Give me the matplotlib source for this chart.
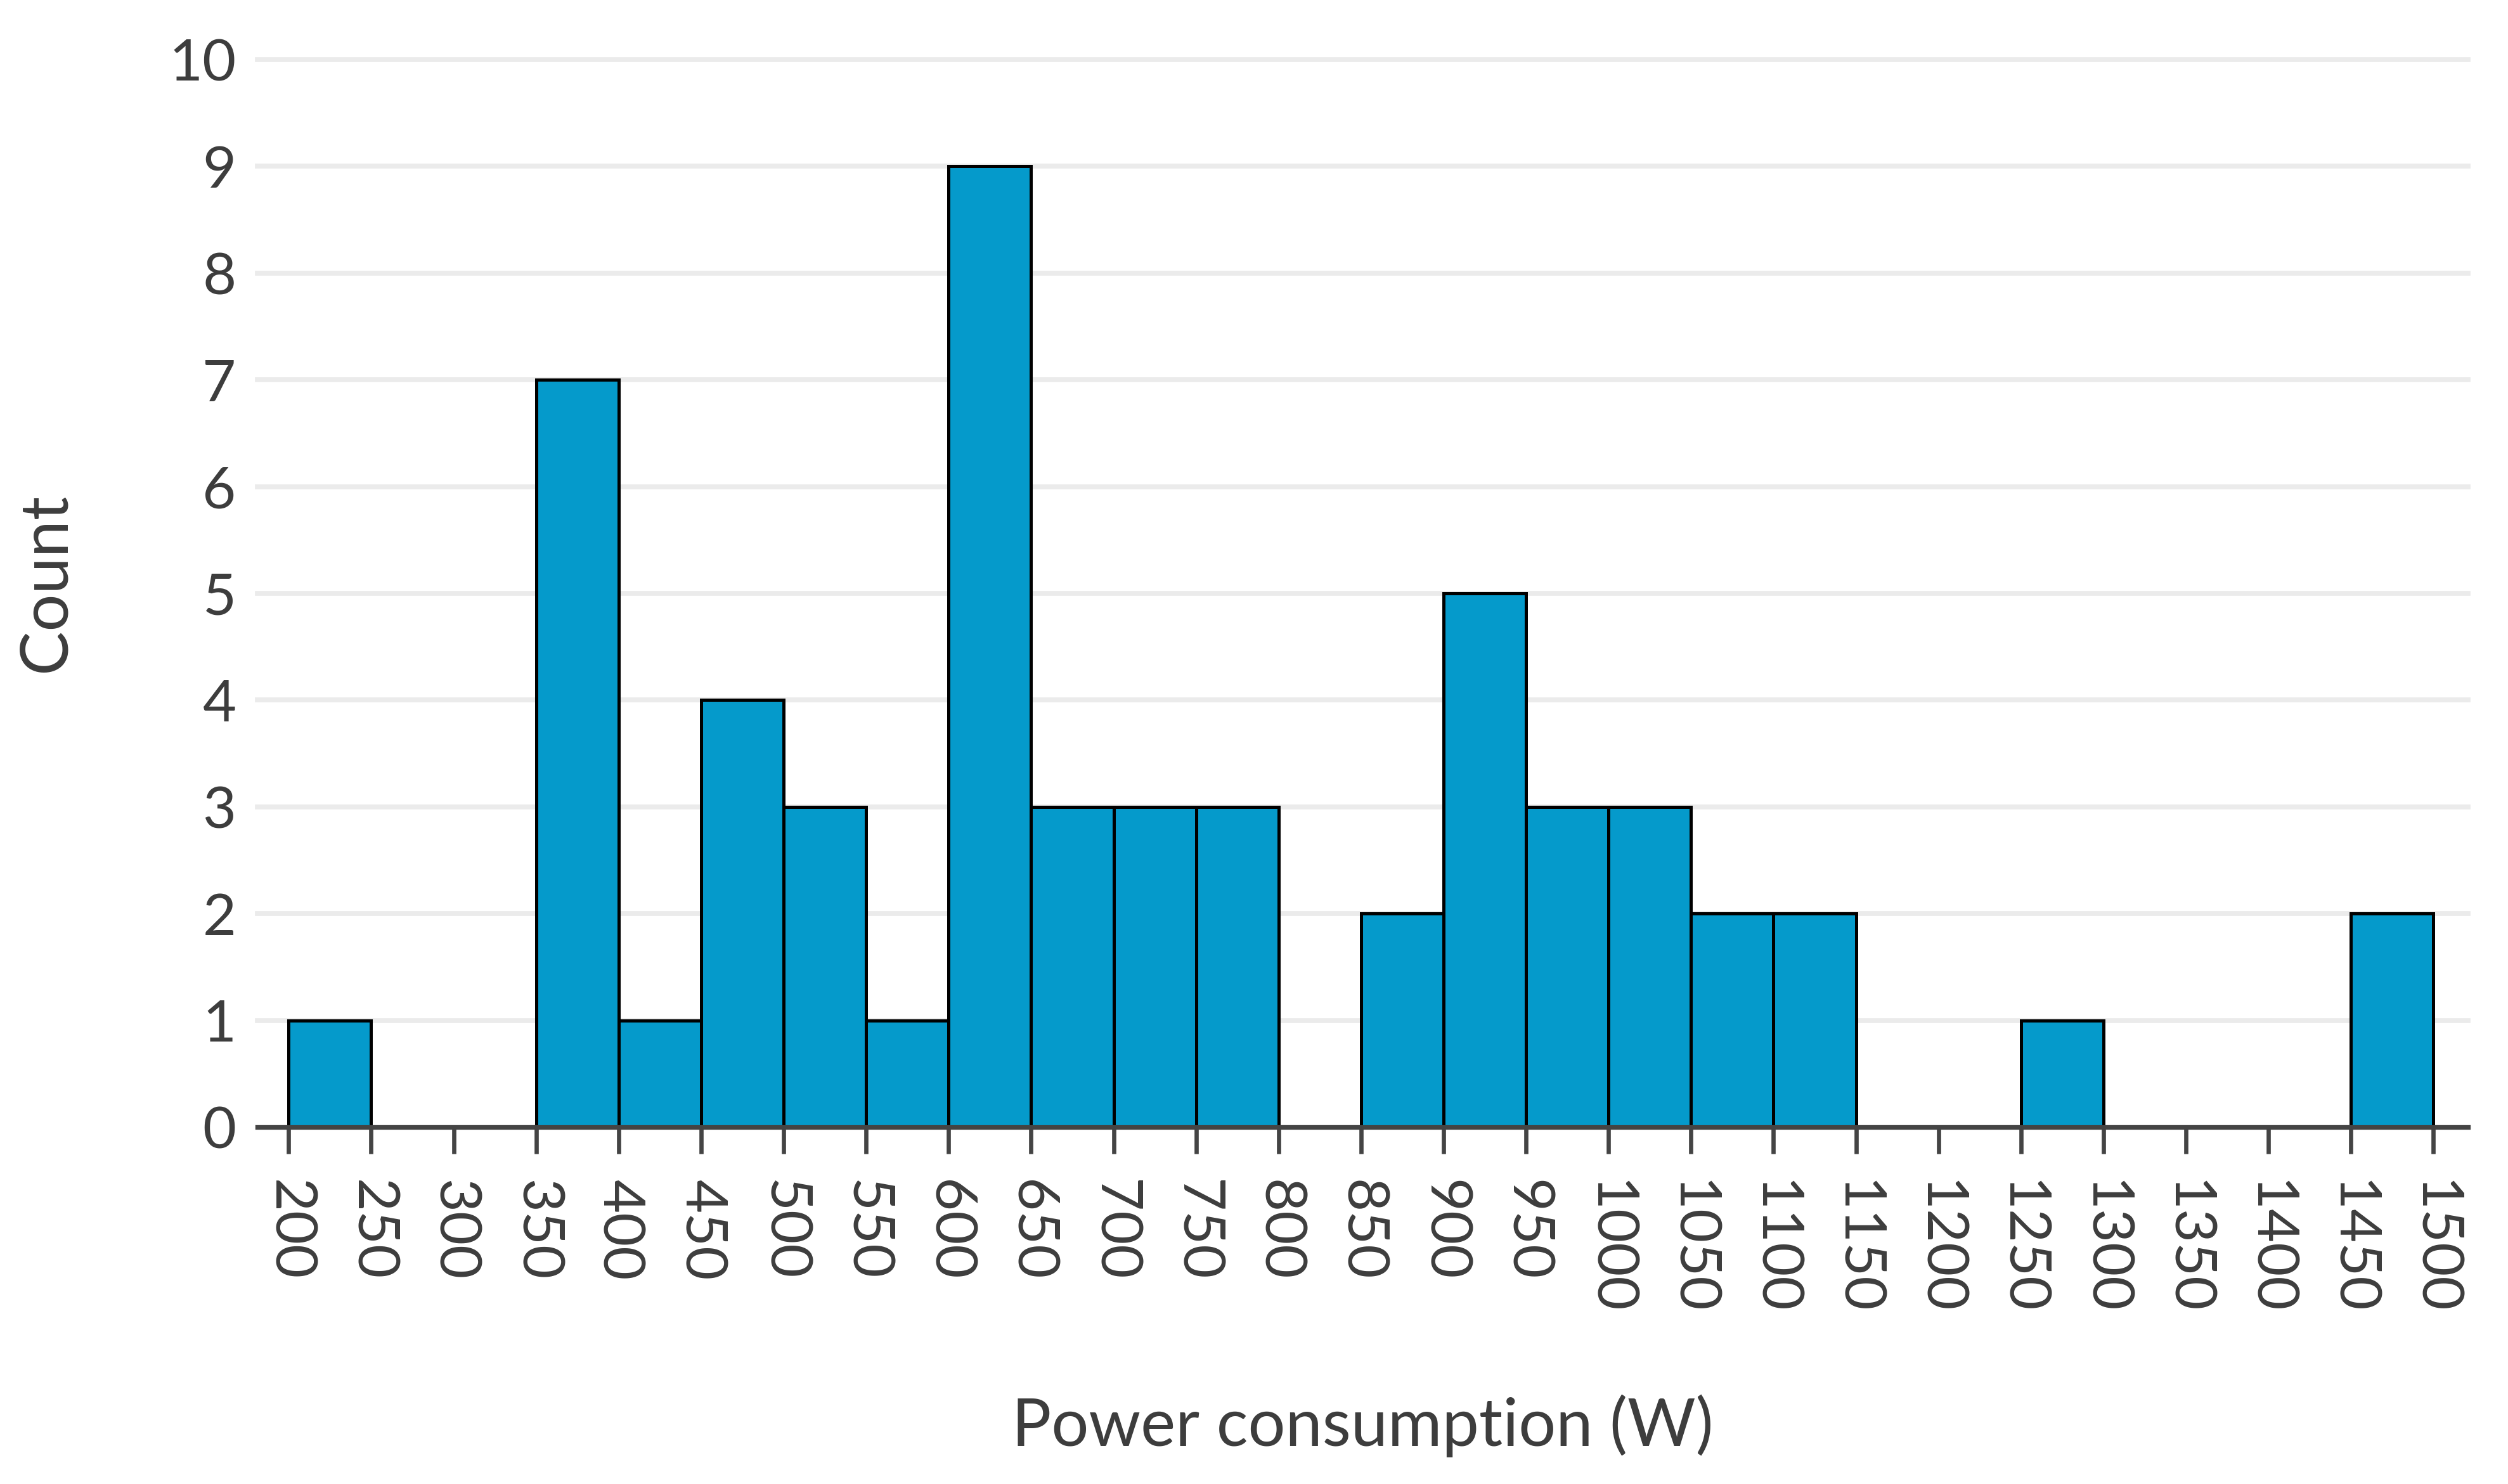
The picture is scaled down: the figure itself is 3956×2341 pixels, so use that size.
import matplotlib
matplotlib.use("Agg")
import matplotlib.pyplot as plt

plt.rcParams['font.family'] = ['Lato', 'DejaVu Sans']

# histogram bins (W) and counts
bin_lefts = [200, 250, 300, 350, 400, 450, 500, 550, 600, 650, 700, 750, 800,
             850, 900, 950, 1000, 1050, 1100, 1150, 1200, 1250, 1300, 1350, 1400, 1450]
counts = [1, 0, 0, 7, 1, 4, 3, 1, 9, 3, 3, 3, 0,
          2, 5, 3, 3, 2, 2, 0, 0, 1, 0, 0, 0, 2]
bin_width = 50
x_ticks = list(range(200, 1501, 50))
y_ticks = list(range(0, 11))

BAR_COLOR = "#059acb"
TEXT_COLOR = "#3d3d3d"
GRID_COLOR = "#ebebeb"

fig = plt.figure(figsize=(19.78, 11.705), dpi=200)
ax = fig.add_axes([0.1026, 0.2405, 0.8815, 0.7193])

xs = [b for b, c in zip(bin_lefts, counts) if c > 0]
hs = [c for c in counts if c > 0]
ax.bar(xs, hs, width=bin_width, align='edge', color=BAR_COLOR,
       edgecolor='black', linewidth=1.8, zorder=3)

ax.set_xlim(181, 1521)
ax.set_ylim(0, 10)
ax.set_axisbelow(True)
ax.yaxis.grid(True, color=GRID_COLOR, linewidth=2.8, clip_on=False)
ax.xaxis.grid(False)

for s in ['top', 'right', 'left']:
    ax.spines[s].set_visible(False)
ax.spines['bottom'].set_color('#444444')
ax.spines['bottom'].set_linewidth(2.6)
ax.spines['bottom'].set_zorder(4)

ax.set_xticks(x_ticks)
ax.set_xticklabels([str(t) for t in x_ticks], rotation=270, ha='center', va='top')
ax.set_yticks(y_ticks)
ax.tick_params(axis='x', length=15, width=2.4, color='#444444', pad=15,
               labelsize=33, labelcolor=TEXT_COLOR)
ax.tick_params(axis='y', length=0, pad=12, labelsize=33, labelcolor=TEXT_COLOR)

ax.set_xlabel("Power consumption (W)", fontsize=37.5, color=TEXT_COLOR)
ax.xaxis.set_label_coords(0.5, -0.28)
ax.xaxis.label.set_va('center')
ax.set_ylabel("Count", fontsize=37.5, color=TEXT_COLOR)
ax.yaxis.set_label_coords(-0.0955, 0.51)
ax.yaxis.label.set_va('center')

fig.savefig("out.png", dpi=200)
